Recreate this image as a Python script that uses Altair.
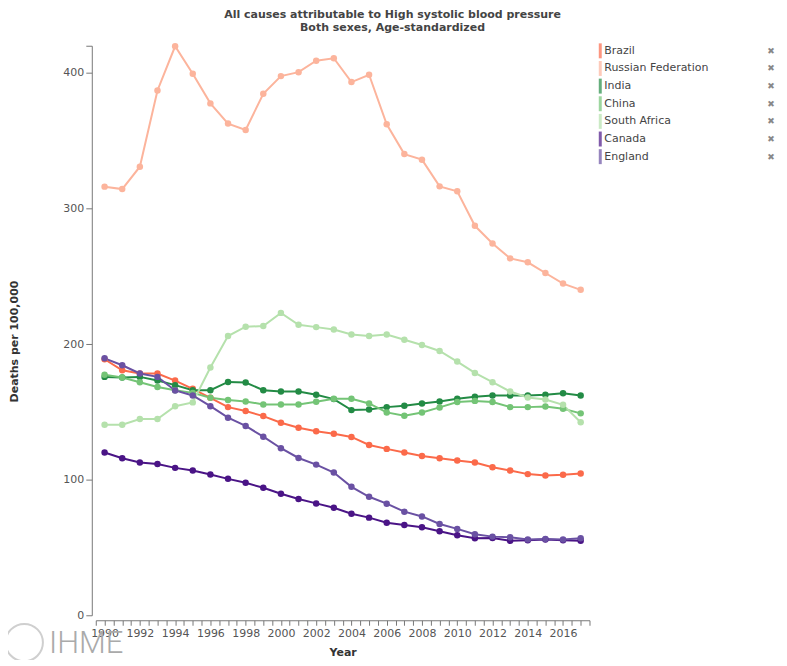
import altair as alt
import pandas as pd

years = list(range(1990, 2018))
countries = ["Brazil", "Russian Federation", "India", "China", "South Africa", "Canada", "England"]
colors = ["#fb6a4a", "#fcb49c", "#238b45", "#74c476", "#b5e1ac", "#4a1486", "#6a51a3"]

brazil = [188.8, 180.7, 178.3, 178.3, 173.1, 167.0, 160.4, 153.5, 150.6, 146.9, 142.0, 138.3, 135.7, 133.9,
          131.5, 125.6, 122.7, 120.0, 117.5, 115.8, 114.1, 112.6, 109.2, 106.7, 104.1, 103.1, 103.6, 104.5]
russia = [316.1, 314.3, 330.8, 387.0, 419.6, 399.3, 377.5, 362.6, 357.9, 384.6, 397.6, 400.5, 409.0, 410.8,
          393.2, 398.6, 362.1, 340.1, 336.0, 316.3, 312.7, 287.2, 274.2, 263.2, 260.3, 252.4, 244.6, 240.0]
india = [175.8, 175.3, 175.8, 173.1, 169.7, 166.0, 166.0, 172.1, 171.6, 166.0, 165.0, 165.0, 162.6, 159.4,
         151.3, 151.8, 153.5, 154.5, 156.2, 157.7, 159.6, 161.1, 162.1, 162.1, 162.1, 162.6, 163.8, 162.1]
china = [177.3, 175.3, 171.9, 168.4, 166.0, 164.0, 160.4, 158.7, 157.7, 155.5, 155.5, 155.5, 157.4, 159.6,
         159.6, 156.2, 149.6, 147.1, 149.6, 153.3, 157.2, 158.1, 157.2, 153.5, 153.5, 154.0, 152.3, 148.9]
south_africa = [140.5, 140.5, 144.7, 144.7, 154.2, 157.0, 182.7, 205.9, 212.8, 213.3, 223.0, 214.2, 212.5, 210.8,
                207.1, 205.9, 207.1, 203.2, 199.3, 194.9, 187.1, 178.7, 171.9, 165.0, 160.6, 159.1, 155.2, 142.3]
canada = [120.0, 115.8, 112.6, 111.6, 108.7, 106.7, 103.8, 100.6, 97.7, 94.0, 89.6, 85.7, 82.5, 79.3,
          74.9, 72.0, 68.3, 66.6, 64.9, 61.9, 59.0, 56.8, 57.0, 54.9, 55.4, 55.9, 55.4, 54.9]
england = [189.5, 184.4, 178.3, 175.8, 165.8, 162.1, 154.2, 145.7, 139.6, 131.7, 123.2, 116.0, 111.1, 105.3,
           94.7, 87.4, 82.3, 76.4, 72.9, 67.3, 63.7, 59.7, 58.0, 57.5, 55.8, 56.3, 55.8, 56.8]

series = [brazil, russia, india, china, south_africa, canada, england]
y_tick_values = [0, 100, 200, 300, 400, 420]
x_tick_values = [1989.5 + 0.5 * i for i in range(57)]

title_lines = ["All causes attributable to High systolic blood pressure", "Both sexes, Age-standardized"]

rows = []
for c, vals in zip(countries, series):
    for yr, v in zip(years, vals):
        rows.append({"country": c, "year": yr, "value": v})
df = pd.DataFrame(rows)
legend_df = pd.DataFrame({"country": countries, "x": ["\u2716"] * len(countries)})

FONT = "DejaVu Sans"
W, H = 495, 571

color_scale = alt.Scale(domain=countries, range=colors)

x_label_expr = ("(round(datum.value) == datum.value && round(datum.value / 2) * 2 == datum.value)"
                " ? format(datum.value, 'd') : ''")

x_enc = alt.X(
    "year:Q",
    scale=alt.Scale(domain=[1989.5, 2017.5], nice=False, zero=False),
    axis=alt.Axis(
        values=x_tick_values,
        labelExpr=x_label_expr,
        offset=5, tickSize=5, grid=False, labelOverlap=False, labelFlush=False,
        labelFontSize=11, labelColor="#555", labelPadding=2, labelFont=FONT,
        domainColor="#777", tickColor="#777",
        title="Year", titleFontSize=11, titleFontWeight="bold", titleColor="#333",
        titleFont=FONT, titlePadding=8,
    ),
)
y_enc = alt.Y(
    "value:Q",
    scale=alt.Scale(domain=[0, 420], nice=False, zero=True),
    axis=alt.Axis(
        values=y_tick_values,
        labelExpr="datum.value == 420 ? '' : datum.label",
        offset=4, tickSize=6, grid=False, labelOverlap=False, labelFlush=False,
        labelFontSize=11, labelColor="#555", labelPadding=2, labelFont=FONT,
        domainColor="#777", tickColor="#777",
        title="Deaths per 100,000", titleFontSize=11, titleFontWeight="bold", titleColor="#333",
        titleFont=FONT, titleX=-72, titleY=296,
    ),
)
color_enc = alt.Color("country:N", scale=color_scale, legend=None)

base = alt.Chart(df)
lines = base.mark_line(strokeWidth=2).encode(x=x_enc, y=y_enc, color=color_enc, detail="country:N")
points = base.mark_circle(size=42, opacity=1).encode(x=x_enc, y=y_enc, color=color_enc)
main = alt.layer(lines, points)

leg_y = alt.Y("country:N", sort=countries,
              scale=alt.Scale(type="point", domain=countries, range=[5.1, 111.2], padding=0),
              axis=None)
leg_base = alt.Chart(legend_df)
leg_bars = leg_base.mark_tick(orient="vertical", thickness=3, size=15).encode(
    x=alt.value(505.8), y=leg_y, color=color_enc)
leg_text = leg_base.mark_text(align="left", baseline="middle", fontSize=11, font=FONT, color="#444").encode(
    x=alt.value(509.8), y=leg_y, text="country:N")
leg_x = leg_base.mark_text(align="center", baseline="middle", fontSize=9, font=FONT, color="#888").encode(
    x=alt.value(677), y=leg_y, text="x:N")
legend = alt.layer(leg_bars, leg_text, leg_x)

logo_df = pd.DataFrame({"name": ["IHME"]})
logo_circle = alt.Chart(logo_df).mark_point(shape="circle", size=1400, filled=False, strokeWidth=2,
                                            color="#bbbbbb").encode(x=alt.value(-71.7), y=alt.value(598.4))
logo_text = alt.Chart(logo_df).mark_text(align="left", baseline="alphabetic", fontSize=31, font="Roboto",
                                         fontWeight=300, color="#aaaaaa").encode(
    x=alt.value(-47), y=alt.value(609), text="name:N")
logo = alt.layer(logo_circle, logo_text)

chart = (
    alt.layer(main, legend, logo)
    .resolve_scale(y="independent")
    .properties(
        width=W, height=H,
        padding={"left": 88, "top": 37, "right": 190, "bottom": 44},
        autosize=alt.AutoSizeParams(type="none"),
        title=alt.TitleParams(text=title_lines, fontSize=11, font=FONT, fontWeight="bold", color="#444",
                              anchor="middle", frame="group", dx=50, offset=7, lineHeight=13),
    )
    .configure(font=FONT)
    .configure_view(stroke=None)
)

chart.save("out.html", embed_options={"renderer": "svg", "actions": False})
